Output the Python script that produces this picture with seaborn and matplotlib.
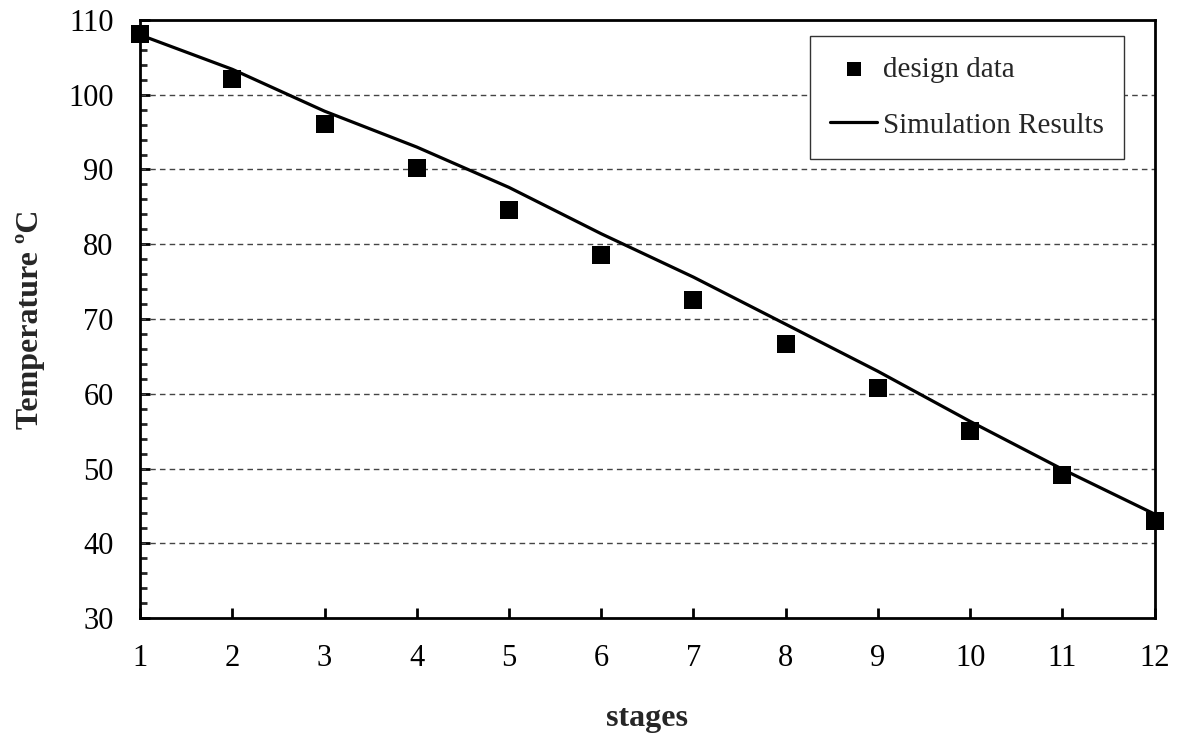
import matplotlib
matplotlib.use("Agg")
import matplotlib.pyplot as plt
import seaborn as sns
import pandas as pd
from matplotlib.ticker import MultipleLocator

stages = [1, 2, 3, 4, 5, 6, 7, 8, 9, 10, 11, 12]
design_data = [108.1, 102.1, 96.1, 90.2, 84.6, 78.6, 72.5, 66.7, 60.8, 55.0, 49.1, 43.0]
simulation = [108.0, 103.4, 97.8, 93.0, 87.6, 81.4, 75.6, 69.3, 63.0, 56.3, 49.9, 43.9]
x_ticks = list(range(1, 13))
y_ticks = [30, 40, 50, 60, 70, 80, 90, 100, 110]

sns.set_style("white")
plt.rcParams['font.family'] = ['Liberation Serif', 'DejaVu Serif']

df = pd.DataFrame({"stage": stages, "design": design_data, "sim": simulation})

fig = plt.figure(figsize=(11.77, 7.39), dpi=100)
ax = fig.add_axes([0.119, 0.1637, 0.862, 0.8093])

sns.scatterplot(data=df, x="stage", y="design", marker="s", s=170, color="black",
                edgecolor="black", linewidth=0, label="design data", ax=ax, zorder=4,
                clip_on=False)
sns.lineplot(data=df, x="stage", y="sim", color="black", linewidth=2.3,
             label="Simulation Results", ax=ax, zorder=3)

ax.set_xlim(1, 12)
ax.set_ylim(30, 110)
ax.set_xticks(x_ticks)
ax.set_yticks(y_ticks)
ax.yaxis.set_minor_locator(MultipleLocator(2))

for sp in ax.spines.values():
    sp.set_visible(True)
    sp.set_color("black")
    sp.set_linewidth(2.0)

ax.tick_params(axis="both", which="major", direction="in", length=7, width=2,
               labelsize=22, colors="black")
ax.tick_params(axis="x", which="major", pad=19)
ax.tick_params(axis="y", which="major", pad=19)
ax.tick_params(axis="y", which="minor", direction="in", length=5, width=2, left=True)
ax.tick_params(axis="x", which="major", bottom=True, top=False)
ax.tick_params(axis="y", which="major", left=True, right=False)

ax.grid(False)
for yv in y_ticks[1:-1]:
    ax.axhline(yv, color="#444444", linestyle=(0, (4, 3)), linewidth=1.0, zorder=1)

ax.set_xlabel("stages", fontsize=23, fontweight="bold", labelpad=22)
ax.set_ylabel("Temperature ºC", fontsize=23, fontweight="bold", labelpad=17)

leg = ax.legend(loc="upper right", bbox_to_anchor=(0.970, 0.973), fontsize=21,
                frameon=True, fancybox=False, shadow=False, handlelength=1.6,
                handletextpad=0.2, labelspacing=1.0, borderpad=0.7, markerscale=0.8,
                borderaxespad=0)
leg.get_frame().set_edgecolor("#333333")
leg.get_frame().set_linewidth(1.0)
leg.get_frame().set_alpha(1)

fig.savefig("out.png", dpi=100)
